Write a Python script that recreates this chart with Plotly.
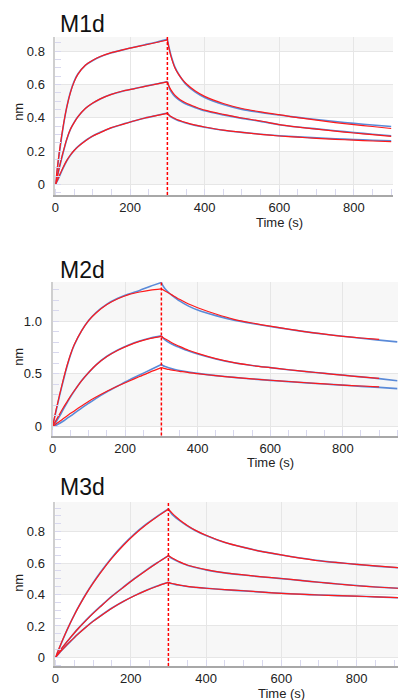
import plotly.graph_objects as go

# ---------------- data ----------------
t_assoc = [0, 5, 10, 20, 30, 40, 50, 60, 80, 100, 120, 150, 180, 210, 240, 270, 300]
t_diss = [300, 305, 310, 320, 330, 340, 350, 375, 400, 450, 500, 550, 600, 650, 700, 750, 800, 850, 900]
t_diss_m2_data = [300, 305, 310, 320, 330, 340, 350, 375, 400, 450, 500, 550, 600, 650, 700, 750, 800, 850, 900, 950]
t_diss_m3 = [300, 305, 310, 320, 330, 340, 350, 375, 400, 450, 500, 550, 600, 650, 700, 750, 800, 850, 910]

# M1d
m1_data_assoc = [
    [0, 0.09, 0.18, 0.335, 0.46, 0.553, 0.618, 0.662, 0.714, 0.743, 0.765, 0.789, 0.807, 0.823, 0.838, 0.853, 0.870],
    [0, 0.045, 0.095, 0.185, 0.268, 0.33, 0.372, 0.405, 0.455, 0.487, 0.512, 0.54, 0.559, 0.574, 0.589, 0.602, 0.617],
    [0, 0.02, 0.045, 0.095, 0.14, 0.175, 0.203, 0.226, 0.262, 0.29, 0.312, 0.34, 0.361, 0.38, 0.398, 0.413, 0.428],
]
m1_fit_assoc = [
    [0, 0.10, 0.19, 0.34, 0.46, 0.55, 0.615, 0.66, 0.715, 0.745, 0.767, 0.79, 0.807, 0.822, 0.836, 0.851, 0.866],
    [0, 0.05, 0.10, 0.19, 0.27, 0.33, 0.37, 0.405, 0.455, 0.488, 0.513, 0.54, 0.56, 0.573, 0.588, 0.601, 0.615],
    [0, 0.025, 0.05, 0.10, 0.142, 0.176, 0.203, 0.225, 0.26, 0.29, 0.31, 0.34, 0.36, 0.38, 0.398, 0.412, 0.426],
]
m1_data_diss = [
    [0.870, 0.815, 0.772, 0.705, 0.662, 0.628, 0.600, 0.553, 0.521, 0.479, 0.450, 0.431, 0.416, 0.402, 0.389, 0.377, 0.366, 0.356, 0.347],
    [0.617, 0.58, 0.556, 0.527, 0.508, 0.494, 0.482, 0.46, 0.441, 0.417, 0.396, 0.378, 0.358, 0.344, 0.333, 0.322, 0.311, 0.301, 0.292],
    [0.428, 0.413, 0.404, 0.392, 0.382, 0.375, 0.368, 0.354, 0.343, 0.325, 0.312, 0.301, 0.292, 0.285, 0.279, 0.274, 0.269, 0.265, 0.262],
]
m1_fit_diss = [
    [0.866, 0.81, 0.765, 0.70, 0.66, 0.63, 0.605, 0.56, 0.528, 0.485, 0.455, 0.435, 0.418, 0.40, 0.385, 0.37, 0.358, 0.347, 0.335],
    [0.615, 0.585, 0.565, 0.535, 0.515, 0.50, 0.488, 0.465, 0.445, 0.42, 0.398, 0.38, 0.358, 0.343, 0.331, 0.319, 0.308, 0.298, 0.288],
    [0.426, 0.415, 0.407, 0.395, 0.385, 0.377, 0.37, 0.355, 0.344, 0.325, 0.312, 0.30, 0.29, 0.283, 0.276, 0.27, 0.265, 0.26, 0.256],
]

# M2d
m2_data_assoc = [
    [0, 0.07, 0.15, 0.30, 0.44, 0.57, 0.685, 0.775, 0.91, 1.01, 1.085, 1.165, 1.22, 1.26, 1.295, 1.335, 1.37],
    [0, 0.02, 0.045, 0.10, 0.165, 0.225, 0.285, 0.338, 0.435, 0.515, 0.587, 0.668, 0.728, 0.776, 0.814, 0.842, 0.862],
    [0, 0.005, 0.012, 0.03, 0.052, 0.077, 0.10, 0.125, 0.175, 0.222, 0.268, 0.33, 0.385, 0.44, 0.49, 0.54, 0.59],
]
m2_fit_assoc = [
    [0, 0.08, 0.16, 0.31, 0.45, 0.58, 0.69, 0.78, 0.91, 1.01, 1.08, 1.16, 1.215, 1.255, 1.28, 1.298, 1.31],
    [0, 0.03, 0.06, 0.12, 0.18, 0.235, 0.29, 0.34, 0.435, 0.515, 0.585, 0.665, 0.725, 0.772, 0.81, 0.838, 0.858],
    [0, 0.012, 0.025, 0.05, 0.075, 0.10, 0.125, 0.148, 0.195, 0.24, 0.28, 0.335, 0.385, 0.43, 0.475, 0.52, 0.56],
]
m2_data_diss = [
    [1.37, 1.335, 1.31, 1.275, 1.245, 1.22, 1.195, 1.145, 1.108, 1.055, 1.012, 0.98, 0.952, 0.925, 0.90, 0.878, 0.858, 0.84, 0.822, 0.805],
    [0.862, 0.84, 0.825, 0.80, 0.782, 0.766, 0.752, 0.718, 0.69, 0.643, 0.606, 0.58, 0.56, 0.54, 0.522, 0.505, 0.489, 0.472, 0.455, 0.435],
    [0.59, 0.578, 0.57, 0.558, 0.548, 0.54, 0.533, 0.518, 0.505, 0.484, 0.467, 0.452, 0.439, 0.427, 0.415, 0.404, 0.393, 0.382, 0.372, 0.36],
]
m2_fit_diss = [
    [1.31, 1.30, 1.29, 1.27, 1.25, 1.23, 1.21, 1.165, 1.13, 1.07, 1.02, 0.985, 0.955, 0.927, 0.90, 0.878, 0.858, 0.842, 0.828],
    [0.858, 0.845, 0.835, 0.815, 0.795, 0.778, 0.762, 0.725, 0.695, 0.645, 0.607, 0.58, 0.56, 0.54, 0.522, 0.505, 0.488, 0.472, 0.457],
    [0.56, 0.555, 0.551, 0.543, 0.536, 0.53, 0.525, 0.512, 0.502, 0.483, 0.467, 0.453, 0.44, 0.428, 0.416, 0.405, 0.394, 0.385, 0.376],
]

# M3d
m3_data_assoc = [
    [0, 0.028, 0.057, 0.115, 0.17, 0.222, 0.271, 0.316, 0.4, 0.475, 0.543, 0.636, 0.716, 0.786, 0.846, 0.898, 0.945],
    [0, 0.016, 0.033, 0.066, 0.097, 0.126, 0.155, 0.183, 0.234, 0.282, 0.326, 0.39, 0.447, 0.502, 0.554, 0.602, 0.648],
    [0, 0.013, 0.027, 0.053, 0.078, 0.102, 0.126, 0.149, 0.191, 0.23, 0.265, 0.314, 0.356, 0.393, 0.426, 0.454, 0.478],
]
m3_fit_assoc = [
    [0, 0.03, 0.06, 0.117, 0.171, 0.222, 0.27, 0.315, 0.398, 0.472, 0.54, 0.632, 0.712, 0.782, 0.842, 0.895, 0.943],
    [0, 0.018, 0.035, 0.068, 0.098, 0.127, 0.155, 0.182, 0.232, 0.28, 0.324, 0.388, 0.445, 0.50, 0.552, 0.601, 0.647],
    [0, 0.014, 0.028, 0.054, 0.079, 0.103, 0.126, 0.148, 0.19, 0.229, 0.264, 0.313, 0.355, 0.392, 0.425, 0.453, 0.477],
]
m3_data_diss = [
    [0.945, 0.925, 0.91, 0.888, 0.87, 0.853, 0.838, 0.803, 0.776, 0.731, 0.70, 0.673, 0.652, 0.633, 0.616, 0.603, 0.592, 0.581, 0.57],
    [0.648, 0.637, 0.629, 0.617, 0.606, 0.596, 0.587, 0.571, 0.557, 0.538, 0.524, 0.512, 0.501, 0.49, 0.478, 0.467, 0.457, 0.448, 0.44],
    [0.478, 0.472, 0.468, 0.463, 0.459, 0.455, 0.451, 0.445, 0.44, 0.43, 0.423, 0.415, 0.408, 0.402, 0.397, 0.393, 0.389, 0.385, 0.379],
]
m3_fit_diss = [
    [0.943, 0.93, 0.918, 0.895, 0.875, 0.857, 0.84, 0.805, 0.777, 0.732, 0.70, 0.673, 0.652, 0.632, 0.615, 0.603, 0.592, 0.582, 0.571],
    [0.647, 0.64, 0.633, 0.62, 0.608, 0.597, 0.588, 0.572, 0.558, 0.538, 0.525, 0.512, 0.502, 0.49, 0.478, 0.467, 0.456, 0.448, 0.44],
    [0.477, 0.473, 0.47, 0.465, 0.46, 0.456, 0.452, 0.446, 0.44, 0.431, 0.424, 0.415, 0.407, 0.402, 0.397, 0.393, 0.39, 0.385, 0.38],
]

panel_titles = ["M1d", "M2d", "M3d"]
x_ticks = [0, 200, 400, 600, 800]
y1_ticks = [0, 0.2, 0.4, 0.6, 0.8]
y1_labels = ["0", "0.2", "0.4", "0.6", "0.8"]
y2_ticks = [0, 0.5, 1.0]
y2_labels = ["0", "0.5", "1.0"]
y3_ticks = [0, 0.2, 0.4, 0.6, 0.8]
y3_labels = ["0", "0.2", "0.4", "0.6", "0.8"]
x_title = "Time (s)"
x_title_at = 600
y_title = "nm"
t_switch = 300

# ---------------- figure ----------------
W, H = 398, 700
BLUE = "#5a8ad8"
RED = "#ff1a1a"

panels = [
    dict(xr=[0, 905], yr=[-0.064, 0.886], px=(52, 393), py=(36.7, 195),
         yt=y1_ticks, yl=y1_labels, ymin=0.05,
         data=(t_assoc, m1_data_assoc, t_diss, m1_data_diss),
         fit=(t_assoc, m1_fit_assoc, t_diss, m1_fit_diss),
         title_y=23.5, xt_y=222.5, yt_pos=(14, 112)),
    dict(xr=[0, 952], yr=[-0.086, 1.375], px=(49, 398), py=(282, 435.5),
         yt=y2_ticks, yl=y2_labels, ymin=0.1,
         data=(t_assoc, m2_data_assoc, t_diss_m2_data, m2_data_diss),
         fit=(t_assoc, m2_fit_assoc, t_diss, m2_fit_diss),
         title_y=270, xt_y=462.5, yt_pos=(14, 357)),
    dict(xr=[0, 910], yr=[-0.055, 0.989], px=(52, 398), py=(502, 666),
         yt=y3_ticks, yl=y3_labels, ymin=0.05,
         data=(t_assoc, m3_data_assoc, t_diss_m3, m3_data_diss),
         fit=(t_assoc, m3_fit_assoc, t_diss_m3, m3_fit_diss),
         title_y=487, xt_y=693, yt_pos=(14, 583)),
]

fig = go.Figure()
shapes = []
annotations = []
font_family = "Liberation Sans, Arial, sans-serif"

for i, p in enumerate(panels):
    n = "" if i == 0 else str(i + 1)
    xa, ya = "x" + n, "y" + n
    for (ta, va, td, vd), color, width in [(p["data"], BLUE, 1.6), (p["fit"], RED, 1.2)]:
        for k in range(3):
            for tx, vy in [(ta, va[k]), (td, vd[k])]:
                fig.add_trace(go.Scatter(x=tx, y=vy, mode="lines", xaxis=xa, yaxis=ya,
                                         line=dict(color=color, width=width, shape="spline", smoothing=0.7),
                                         hoverinfo="skip"))
    xdom = [p["px"][0] / W, p["px"][1] / W]
    ydom = [1 - p["py"][1] / H, 1 - p["py"][0] / H]
    fig.layout["xaxis" + n] = dict(
        domain=xdom, anchor=ya, range=p["xr"], tickvals=x_ticks, ticks="",
        showgrid=True, gridcolor="#e6e6e6", gridwidth=1, zeroline=False,
        showline=True, linecolor="#a8a8a8", linewidth=1.5,
        tickfont=dict(size=13, color="#222", family=font_family),
        ticklabelstandoff=0,
        minor=dict(dtick=50, tick0=0, ticks="inside", ticklen=6, tickcolor="#d8d8ee", tickwidth=1, showgrid=False),
        fixedrange=True,
    )
    fig.layout["yaxis" + n] = dict(
        domain=ydom, anchor=xa, range=p["yr"], tickvals=p["yt"], ticktext=p["yl"], ticks="",
        showgrid=True, gridcolor="#e6e6e6", gridwidth=1, zeroline=False,
        showline=True, linecolor="#cfcfcf", linewidth=2,
        tickfont=dict(size=13, color="#222", family=font_family),
        ticklabelstandoff=6,
        minor=dict(dtick=p["ymin"], tick0=0, ticks="inside", ticklen=6, tickcolor="#d8d8ee", tickwidth=1, showgrid=False),
        fixedrange=True,
    )
    yt = p["yt"]
    step = yt[1] - yt[0]
    b = 0
    while b < p["yr"][1]:
        shapes.append(dict(type="rect", xref=xa + " domain", yref=ya, x0=0, x1=1,
                           y0=b, y1=min(b + step, p["yr"][1]), fillcolor="#f7f7f7",
                           line=dict(width=0), layer="below"))
        b += 2 * step
    shapes.append(dict(type="line", xref=xa, yref=ya + " domain", x0=t_switch, x1=t_switch, y0=0, y1=1,
                       line=dict(color="#ff0000", width=1.5, dash="3px,2px"), layer="above"))
    annotations.append(dict(text=panel_titles[i], x=55 / W, y=1 - p["title_y"] / H, xref="paper", yref="paper",
                            xanchor="left", yanchor="middle", showarrow=False,
                            font=dict(size=23, color="#111", family=font_family)))
    annotations.append(dict(text=x_title, x=x_title_at, y=1 - p["xt_y"] / H, xref=xa, yref="paper",
                            xanchor="center", yanchor="middle", showarrow=False,
                            font=dict(size=13, color="#222", family=font_family)))
    annotations.append(dict(text=y_title, x=p["yt_pos"][0] / W, y=1 - p["yt_pos"][1] / H, xref="paper", yref="paper",
                            xanchor="center", yanchor="middle", showarrow=False, textangle=-90,
                            font=dict(size=13, color="#222", family=font_family)))

fig.update_layout(
    width=W, height=H, margin=dict(l=0, r=0, t=0, b=0),
    paper_bgcolor="white", plot_bgcolor="white", showlegend=False,
    shapes=shapes, annotations=annotations,
    font=dict(family=font_family, size=13, color="#222"),
)

fig.write_html("out.html", config={"displayModeBar": False})
